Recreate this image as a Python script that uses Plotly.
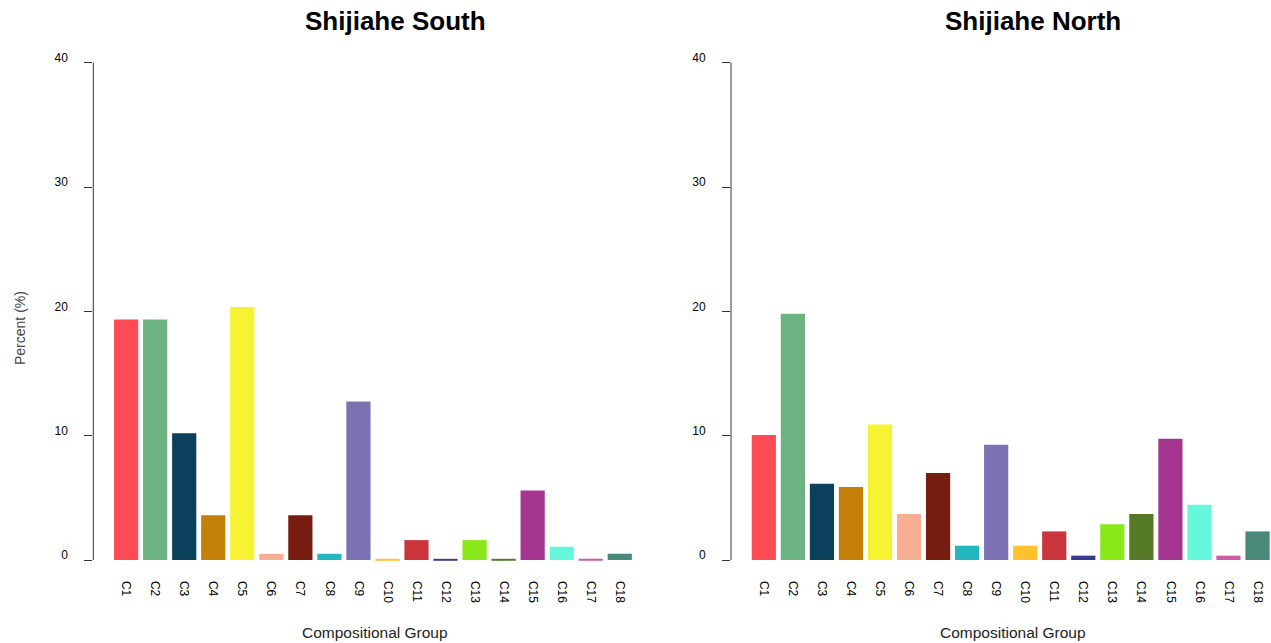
import plotly.graph_objects as go

groups = ["C1", "C2", "C3", "C4", "C5", "C6", "C7", "C8", "C9", "C10",
          "C11", "C12", "C13", "C14", "C15", "C16", "C17", "C18"]
south_pct = [19.35, 19.35, 10.2, 3.6, 20.35, 0.5, 3.6, 0.5, 12.75, 0.08,
             1.6, 0.08, 1.6, 0.08, 5.6, 1.07, 0.08, 0.5]
north_pct = [10.05, 19.8, 6.13, 5.87, 10.9, 3.7, 7.0, 1.15, 9.27, 1.15,
             2.3, 0.35, 2.87, 3.7, 9.75, 4.45, 0.35, 2.3]
colors = ["#FF4B55", "#6DB381", "#0B405C", "#C48109", "#F6F333", "#F8AE93",
          "#771C10", "#24B6BE", "#7B72B3", "#FEC22E", "#C9353A", "#3A3D8F",
          "#8AE81A", "#567927", "#A43690", "#64F7DA", "#CA5EA6", "#4A887A"]
y_ticks = [0, 10, 20, 30, 40]
titles = ["Shijiahe South", "Shijiahe North"]

W, H = 1271, 643
FONT = "Arial, 'Liberation Sans', Helvetica, sans-serif"

fig = go.Figure()
fig.add_trace(go.Bar(x=groups, y=south_pct, marker=dict(color=colors, line=dict(width=0)),
                     xaxis="x", yaxis="y", showlegend=False))
fig.add_trace(go.Bar(x=groups, y=north_pct, marker=dict(color=colors, line=dict(width=0)),
                     xaxis="x2", yaxis="y2", showlegend=False))

pitch = 29.04
pad = 1.131
left_dom = [93.3 / W, 652.6 / W]
right_dom = [731.0 / W, 1.0]
right_span = (W - 731.0) / pitch

ydom = [(H - 579.9) / H, (H - 42.8) / H]

def xaxis_cfg(dom, rng, anchor):
    return dict(domain=dom, anchor=anchor, type="category", range=rng,
                showline=False, showgrid=False, zeroline=False, ticks="",
                tickangle=90, tickfont=dict(family=FONT, size=12, color="#000"))

def yaxis_cfg(anchor):
    return dict(domain=ydom, anchor=anchor, range=[-1.6, 41.6], tickvals=y_ticks,
                showline=False, showgrid=False, zeroline=False, ticks="outside",
                ticklen=8, tickwidth=1, tickcolor="#333", ticklabelstandoff=14,
                ticklabelshift=-5,
                tickfont=dict(family=FONT, size=12, color="#000"))

fig.update_layout(
    width=W, height=H,
    margin=dict(l=0, r=0, t=0, b=0),
    paper_bgcolor="white", plot_bgcolor="white",
    bargap=1/6,
    xaxis=xaxis_cfg(left_dom, [-pad, 17 + pad], "y"),
    yaxis=yaxis_cfg("x"),
    xaxis2=xaxis_cfg(right_dom, [-pad, -pad + right_span], "y2"),
    yaxis2=yaxis_cfg("x2"),
)

# axis lines from first to last tick (R style)
for xr, yr in [("x domain", "y"), ("x2 domain", "y2")]:
    fig.add_shape(type="line", xref=xr, yref=yr, x0=0, x1=0,
                  y0=y_ticks[0], y1=y_ticks[-1], line=dict(color="#333", width=1))

annots = []
for xc, t in zip([395, 1033], titles):
    annots.append(dict(text="<b>%s</b>" % t, x=xc / W, y=(H - 21) / H, xref="paper", yref="paper",
                       xanchor="center", yanchor="middle", showarrow=False,
                       font=dict(family=FONT, size=26, color="#000")))
for xc in [375.5, 1013]:
    annots.append(dict(text="Compositional Group", x=xc / W, y=(H - 632) / H, xref="paper",
                       yref="paper", xanchor="center", yanchor="middle", showarrow=False,
                       font=dict(family=FONT, size=15.5, color="#222")))
annots.append(dict(text="Percent (%)", x=20 / W, y=(H - 328) / H, xref="paper", yref="paper",
                   xanchor="center", yanchor="middle", textangle=-90, showarrow=False,
                   font=dict(family=FONT, size=14, color="#444")))
fig.update_layout(annotations=annots)

fig.write_html("out.html", config={"displayModeBar": False},
               post_script="document.body.style.margin='0';")
